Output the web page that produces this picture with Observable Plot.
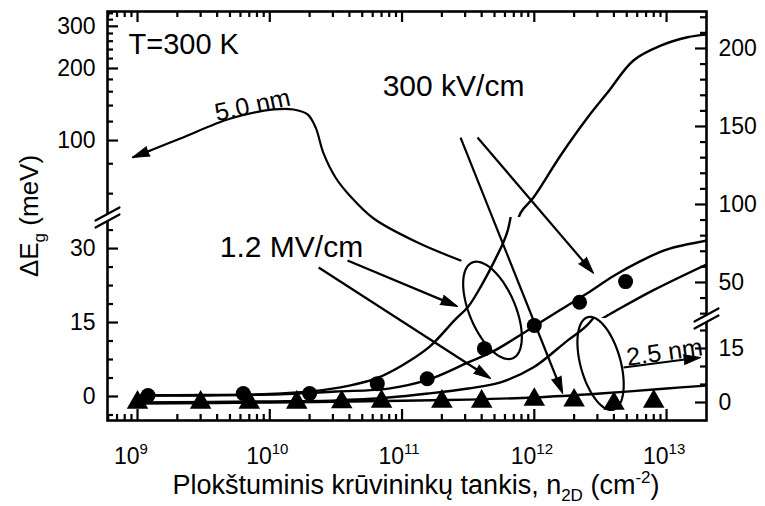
<!DOCTYPE html>
<html>
<head>
<meta charset="utf-8">
<script src="https://cdn.jsdelivr.net/npm/d3@7"></script>
<script src="https://cdn.jsdelivr.net/npm/@observablehq/plot@0.6"></script>
<style>
  body { margin: 0; background: #fff; }
  #chart { position: relative; width: 765px; height: 506px; }
  #chart svg { position: absolute; left: 0; top: 0; }
</style>
</head>
<body>
<div id="chart"></div>
<script>
// ΔEg versus sheet carrier density n2D, T = 300 K.
// Left axis (broken: linear below, log above): 5.0 nm well.
// Right axis (broken: linear below, linear above): 2.5 nm well.

// 5.0 nm, 1.2 MV/cm model curve (left axis)
const n50hi = [1e9, 3.16e9, 1e10, 2e10, 4e10, 6.3e10, 1e11, 1.6e11, 2.5e11, 3.16e11, 4e11, 5e11, 6.3e11, 7.9e11, 9.86e11, 1.58e12, 2.53e12, 3.58e12, 5.62e12, 9.02e12, 1.44e13, 2e13];
const e50hi = [0.2, 0.3, 0.5, 1.0, 2.2, 3.6, 6.3, 10.0, 15.5, 18.2, 22.6, 27.5, 33.7, 50, 57.8, 86.6, 124.8, 158.6, 216, 249, 270, 277];

// 5.0 nm, 300 kV/cm model curve (left axis)
const n50lo = [1e9, 3.16e9, 1e10, 3.16e10, 7.9e10, 1.58e11, 3.16e11, 5e11, 8.9e11, 1.58e12, 2.5e12, 4e12, 6.3e12, 1e13, 2e13];
const e50lo = [0.2, 0.2, 0.4, 1.0, 1.6, 3.4, 6.9, 9.3, 13.4, 17.6, 20.9, 24.5, 27.4, 29.8, 31.6];

// 5.0 nm measured points (left axis)
const n50pts = [1.2e9, 6.3e9, 2e10, 6.5e10, 1.55e11, 4.2e11, 1e12, 2.2e12, 4.9e12];
const e50pts = [0.2, 0.6, 0.6, 2.6, 3.6, 9.7, 14.4, 19.1, 23.3];

// 2.5 nm, 1.2 MV/cm model curve (right axis)
const n25hi = [1e9, 1e10, 3.16e10, 7.9e10, 1.58e11, 3.16e11, 5.56e11, 9.8e11, 1.78e12, 2.5e12, 3.8e12, 7.9e12, 2e13];
const e25hi = [0, 0.3, 0.6, 1.4, 2.5, 3.9, 5.6, 9.7, 17.2, 21.4, 30.1, 44.9, 61.5];

// 2.5 nm, 300 kV/cm model curve (right axis)
const n25lo = [1e9, 1e10, 1e11, 3.16e11, 1e12, 3.16e12, 1e13, 2e13];
const e25lo = [-0.3, 0, 0.5, 0.8, 1.4, 2.5, 3.9, 4.7];

// 2.5 nm measured points (right axis)
const n25pts = [1e9, 3e9, 7e9, 1.6e10, 3.5e10, 7e10, 2e11, 4e11, 1e12, 2e12, 4e12, 8e12];
const e25pts = [0, 0, 0, 0, 0.1, 0.3, 0.3, 0.3, 0.8, 0.6, -0.3, 0.3];

// axis ticks
const xMajor = [1e9, 1e10, 1e11, 1e12, 1e13];
const xMinor = [6e8, 7e8, 8e8, 9e8].concat(...[1e9, 1e10, 1e11, 1e12].map(d => [2, 3, 4, 5, 6, 7, 8, 9].map(k => k * d)));
const leftLowMajor = [0, 15, 30];
const leftLowMinor = [-3.75, 3.75, 7.5, 11.25, 18.75, 22.5, 26.25, 33.75];
const leftHighMajor = [100, 200, 300];
const leftHighMinor = [60, 80, 120, 140, 160, 180, 220, 240, 260, 280, 320, 340];
const rightLowMajor = [0, 15];
const rightLowMinor = [5, 10, 20];
const rightHighMajor = [50, 100, 150, 200];
const rightHighMinor = [30, 40, 60, 70, 80, 90, 110, 120, 130, 140, 160, 170, 180, 190, 210, 220];

// annotations, in right-axis (upper segment) units
const labelText = ["T=300 K", "300 kV/cm", "1.2 MV/cm", "5.0 nm", "2.5 nm"];
const labelX = [8.55e8, 2.45e11, 1.46e10, 7.41e9, 9.66e12];
const labelY = [202.6, 175.6, 72.4, 163.5, 5.1];
const labelSize = [29, 30, 30, 25, 25];
const labelAngle = [0, 0, 0, -12, -8];
const labelAnchor = ["start", "middle", "middle", "middle", "middle"];

const arrowX1 = [3.72e11, 2.77e11, 3.87e10, 2.34e10, 4.73e12];
const arrowY1 = [142.9, 142.9, 64.1, 59.6, -4.5];
const arrowX2 = [2.81e12, 1.64e12, 2.63e11, 4.67e11, 1.81e13];
const arrowY2 = [55.8, -21.2, 34.6, -11.5, 1.9];

// curved leader from the 1.2 MV/cm ellipse to the left axis
const leaderX = [2.77e11, 1.31e11, 6.1e10, 4.08e10, 3.14e10, 2.55e10, 2.22e10, 1.93e10, 1.51e10, 1.07e10, 5.05e9, 2.11e9, 1.25e9];
const leaderY = [64.1, 75.6, 91.0, 105.1, 117.3, 132.7, 149.4, 157.7, 160.9, 160.9, 155.1, 142.3, 134.6];
const leaderTip = [9.16e8, 130.1];

// ellipses grouping curves: center x, center y, semi-axes (px), tilt (deg)
const ellipseX = [4.83e11, 3.17e12];
const ellipseY = [32.1, -1.9];
const ellipseA = [52, 48];
const ellipseB = [23, 20];
const ellipseTilt = [-23, -15.5];

// ---------------------------------------------------------------------------
const W = 765, H = 506;
const M = {left: 107, right: 59, top: 11, bottom: 420};
const FW = W - M.left - M.right, FH = M.bottom - M.top;
const breakLeft = 217, breakRight = 318;
const FONT = '"Liberation Sans", Arial, Helvetica, sans-serif';
const xDomain = [10 ** 8.773, 10 ** 13.302];

const yLeftLow = {type: "linear", domain: [-4.87, 36.3]};
const yLeftHigh = {type: "log", domain: [47.7, 346]};
const yRightLow = {type: "linear", domain: [-5, 23.33]};
const yRightHigh = {type: "linear", domain: [26.9, 223.7]};

const rows = (xs, ys) => xs.map((x, i) => ({x, y: ys[i]}));
const curve50hi = rows(n50hi, e50hi);
const curve50lo = rows(n50lo, e50lo);
const curve25hi = rows(n25hi, e25hi);
const curve25lo = rows(n25lo, e25lo);
const pts50 = rows(n50pts, e50pts);
const pts25 = rows(n25pts, e25pts);

const LW = 2.4;
const line = (data) => Plot.line(data, {x: "x", y: "y", curve: "catmull-rom", stroke: "black", strokeWidth: LW, clip: true});

const MAJ = 11, MIN = 6;
const leftTicks = (major, minor) => [
  Plot.tickY(major, {y: d => d, insetRight: FW - MAJ, stroke: "black", strokeWidth: 2.2}),
  Plot.tickY(minor, {y: d => d, insetRight: FW - MIN, stroke: "black", strokeWidth: 2.2}),
  Plot.text(major, {y: d => d, text: d => `${d}`, frameAnchor: "left", dx: -12, textAnchor: "end", fontSize: 23, fill: "black"})
];
const rightTicks = (major, minor) => [
  Plot.tickY(major, {y: d => d, insetLeft: FW - MAJ, stroke: "black", strokeWidth: 2.2}),
  Plot.tickY(minor, {y: d => d, insetLeft: FW - MIN, stroke: "black", strokeWidth: 2.2}),
  Plot.text(major, {y: d => d, text: d => `${d}`, frameAnchor: "right", dx: 12, textAnchor: "start", fontSize: 23, fill: "black"})
];

// axis break symbol "//": white gap plus two slanted strokes
const breakGap = {draw(c) { c.moveTo(-12, 10); c.lineTo(12, -3); c.lineTo(12, -10); c.lineTo(-12, 3); c.closePath(); }};
const breakLines = {draw(c) { c.moveTo(-12, 10); c.lineTo(12, -3); c.moveTo(-12, 3); c.lineTo(12, -10); }};
const axisBreak = (yValue, side) => [
  Plot.vector([yValue], {y: d => d, frameAnchor: side, length: 1, anchor: "start", shape: breakGap, fill: "white", stroke: "none"}),
  Plot.vector([yValue], {y: d => d, frameAnchor: side, length: 1, anchor: "start", shape: breakLines, fill: "none", stroke: "black", strokeWidth: 2.2})
];

const ellipseShape = {
  draw(c, l, r) {
    const n = 90;
    for (let i = 0; i <= n; ++i) {
      const t = (2 * Math.PI * i) / n;
      const px = r * Math.cos(t), py = l * Math.sin(t);
      if (i === 0) c.moveTo(px, py); else c.lineTo(px, py);
    }
    c.closePath();
  }
};

function layer(y, top, bottom, marks) {
  const options = {
    width: W, height: H,
    marginLeft: M.left, marginRight: M.right, marginTop: top, marginBottom: H - bottom,
    x: {type: "log", domain: xDomain, axis: null},
    style: {background: "transparent", overflow: "visible", fontFamily: FONT, color: "black"},
    marks
  };
  if (y) options.y = {...y, axis: null};
  return Plot.plot(options);
}

// frame and x axis
const base = layer(null, M.top, M.bottom, [
  Plot.frame({stroke: "black", strokeWidth: 2.6}),
  Plot.tickX(xMajor, {x: d => d, insetTop: FH - MAJ, stroke: "black", strokeWidth: 2.2}),
  Plot.tickX(xMinor, {x: d => d, insetTop: FH - MIN, stroke: "black", strokeWidth: 2.2}),
  Plot.tickX(xMajor, {x: d => d, insetBottom: FH - MAJ, stroke: "black", strokeWidth: 2.2}),
  Plot.tickX(xMinor, {x: d => d, insetBottom: FH - MIN, stroke: "black", strokeWidth: 2.2}),
  Plot.text(xMajor, {x: d => d, text: () => "10", frameAnchor: "bottom", dy: 43, dx: 2, textAnchor: "end", fontSize: 23, fill: "black"}),
  Plot.text(xMajor, {x: d => d, text: d => `${Math.round(Math.log10(d))}`, frameAnchor: "bottom", dy: 33, dx: 2, textAnchor: "start", fontSize: 15, fill: "black"})
]);

// left axis, lower linear segment
const leftLow = layer(yLeftLow, breakLeft, M.bottom, [
  ...leftTicks(leftLowMajor, leftLowMinor),
  line(curve50hi),
  line(curve50lo),
  Plot.dot(pts50, {x: "x", y: "y", r: 7.5, fill: "black", stroke: "none"}),
  ...axisBreak(yLeftLow.domain[1], "left")
]);

// left axis, upper log segment
const leftHigh = layer(yLeftHigh, M.top, breakLeft, [
  ...leftTicks(leftHighMajor, leftHighMinor),
  line(curve50hi)
]);

// right axis, lower linear segment
const rightLow = layer(yRightLow, breakRight, M.bottom, [
  ...rightTicks(rightLowMajor, rightLowMinor),
  line(curve25hi),
  line(curve25lo),
  Plot.dot(pts25, {x: "x", y: "y", r: 8, symbol: "triangle", fill: "black", stroke: "none"}),
  ...axisBreak(yRightLow.domain[1], "right")
]);

// annotation geometry in screen space, to orient the arrow heads
const sx = Plot.scale({x: {type: "log", domain: xDomain, range: [M.left, W - M.right]}});
const sy = Plot.scale({y: {type: "linear", domain: yRightHigh.domain, range: [breakRight, M.top]}});
function headAngle(xa, ya, xb, yb) {
  const dx = sx.apply(xb) - sx.apply(xa), dy = sy.apply(yb) - sy.apply(ya);
  return Math.atan2(dx, -dy) * 180 / Math.PI;
}
function shaftEnd(xa, ya, xb, yb, back) {
  const ax = sx.apply(xa), ay = sy.apply(ya), bx = sx.apply(xb), by = sy.apply(yb);
  const len = Math.hypot(bx - ax, by - ay);
  return {x: sx.invert(bx - (bx - ax) * back / len), y: sy.invert(by - (by - ay) * back / len)};
}

const arrows = arrowX1.map((x1, i) => {
  const end = shaftEnd(x1, arrowY1[i], arrowX2[i], arrowY2[i], 10);
  return {x1, y1: arrowY1[i], x2: end.x, y2: end.y, tx: arrowX2[i], ty: arrowY2[i],
          a: headAngle(x1, arrowY1[i], arrowX2[i], arrowY2[i])};
});
const leader = rows(leaderX, leaderY);
const leaderHead = {
  tx: leaderTip[0], ty: leaderTip[1],
  a: headAngle(leaderX[leaderX.length - 1], leaderY[leaderY.length - 1], leaderTip[0], leaderTip[1])
};
const heads = arrows.map(d => ({tx: d.tx, ty: d.ty, a: d.a})).concat([leaderHead]);
const labels = labelText.map((t, i) => ({t, x: labelX[i], y: labelY[i], s: labelSize[i], r: labelAngle[i], anchor: labelAnchor[i]}));

// right axis, upper linear segment, plus annotations
const rightHigh = layer(yRightHigh, M.top, breakRight, [
  ...rightTicks(rightHighMajor, rightHighMinor),
  line(curve25hi),
  Plot.line(leader, {x: "x", y: "y", curve: "catmull-rom", stroke: "black", strokeWidth: 2.2}),
  Plot.link([leaderHead], {x1: leaderX[leaderX.length - 1], y1: leaderY[leaderY.length - 1], x2: "tx", y2: "ty", stroke: "black", strokeWidth: 2.2}),
  Plot.link(arrows, {x1: "x1", y1: "y1", x2: "x2", y2: "y2", stroke: "black", strokeWidth: 2.2}),
  Plot.vector(heads, {x: "tx", y: "ty", rotate: "a", length: 17, r: 5, anchor: "end", shape: "spike", fill: "black", stroke: "black", strokeWidth: 1}),
  ...ellipseX.map((x, i) => Plot.vector([{x, y: ellipseY[i]}], {
    x: "x", y: "y", rotate: ellipseTilt[i], length: ellipseA[i], r: ellipseB[i], anchor: "start",
    shape: ellipseShape, fill: "none", stroke: "black", strokeWidth: 2.2
  })),
  ...labels.map(d => Plot.text([d], {x: "x", y: "y", text: "t", rotate: d.r, fontSize: d.s, textAnchor: d.anchor, fill: "black"}))
]);

const chart = document.getElementById("chart");
for (const svg of [base, leftLow, leftHigh, rightLow, rightHigh]) chart.appendChild(svg);

// axis titles with sub- and superscripts
const svg = d3.select(base);
const xTitle = svg.append("text")
  .attr("x", 416).attr("y", 494).attr("text-anchor", "middle")
  .attr("font-family", FONT).attr("font-size", 27).attr("fill", "black");
xTitle.append("tspan").text("Plokštuminis krūvininkų tankis, n");
xTitle.append("tspan").attr("font-size", 17).attr("dy", 7).text("2D");
xTitle.append("tspan").attr("dy", -7).text(" (cm");
xTitle.append("tspan").attr("font-size", 17).attr("dy", -11).text("-2");
xTitle.append("tspan").attr("dy", 11).text(")");

const yTitle = svg.append("text")
  .attr("transform", "translate(38,216) rotate(-90)").attr("text-anchor", "middle")
  .attr("font-family", FONT).attr("font-size", 26).attr("fill", "black");
yTitle.append("tspan").text("ΔE");
yTitle.append("tspan").attr("font-size", 17).attr("dy", 7).text("g");
yTitle.append("tspan").attr("dy", -7).text(" (meV)");
</script>
</body>
</html>
